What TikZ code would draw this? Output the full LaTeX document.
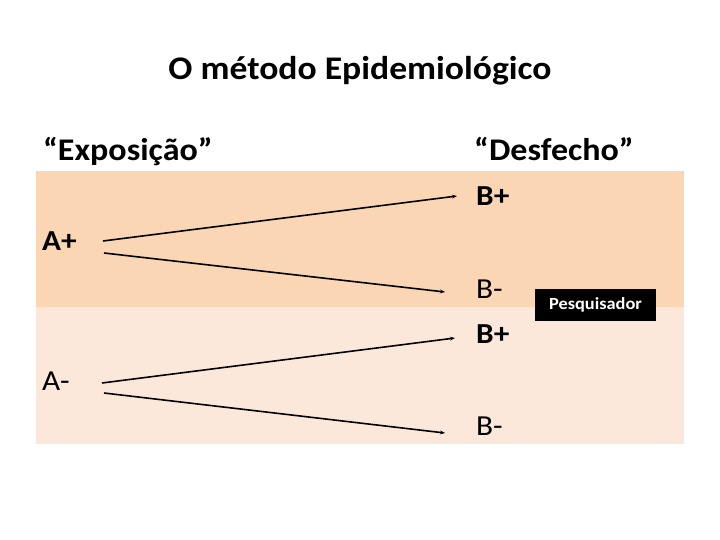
\documentclass[tikz,border=0pt]{standalone}
\usepackage{fontspec}
\setmainfont{Carlito}[FakeStretch=1.08]
\usetikzlibrary{arrows.meta}
\definecolor{bandA}{HTML}{FAD6B5}
\definecolor{bandB}{HTML}{FCE8DB}
\tikzset{
  lbl/.style={inner sep=0pt, anchor=base west, font=\fontsize{29}{32}\selectfont},
  lblb/.style={lbl, font=\fontsize{29}{32}\selectfont\bfseries},
  head/.style={lbl, font=\fontsize{31.5}{34}\selectfont\bfseries},
  arr/.style={line width=1.6pt, -{Stealth[length=5pt,width=3.8pt]}},
}
\begin{document}
\begin{tikzpicture}[x=1pt,y=-1pt]
\useasboundingbox (0,0) rectangle (720,540);
\fill[white] (0,0) rectangle (720,540);
\fill[bandA] (36,171) rectangle (684,307);
\fill[bandB] (36,307) rectangle (684,444);
\node[inner sep=0pt, anchor=base, font=\fontsize{33}{36}\selectfont\bfseries] (title) at (360,80) {O método Epidemiológico};
\node[head] (expo) at (43,161) {“Exposição”};
\node[head] (desf) at (474,161) {“Desfecho”};
\node[lblb] (Ap) at (42,250) {A+};
\node[lbl] (Am) at (42,390) {A-};
\node[lblb] (Bp1) at (476,206) {B+};
\node[lbl] (Bm1) at (476,298) {B-};
\node[lblb] (Bp2) at (476,343) {B+};
\node[lbl] (Bm2) at (476,435) {B-};
\node[fill=black, text=white, inner sep=0pt, minimum width=121pt, minimum height=32pt, font=\fontsize{17}{20}\selectfont\bfseries] (pesq) at (595.5,305) {Pesquisador};
\coordinate (a1) at (103,241);
\coordinate (a2) at (104,253);
\coordinate (a3) at (102,383);
\coordinate (a4) at (104,393);
\coordinate (e1) at (457,196);
\coordinate (e2) at (445,292);
\coordinate (e3) at (455,338);
\coordinate (e4) at (445,433);
\draw[arr] (a1) -- (e1);
\draw[arr] (a2) -- (e2);
\draw[arr] (a3) -- (e3);
\draw[arr] (a4) -- (e4);
\end{tikzpicture}
\end{document}
